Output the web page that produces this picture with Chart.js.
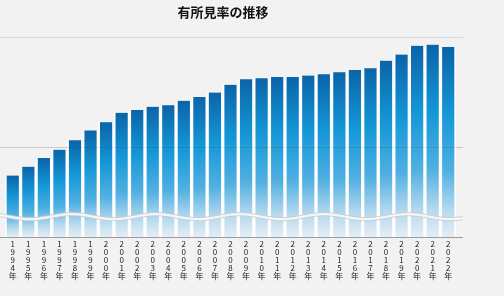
<!DOCTYPE html>
<html>
<head>
<meta charset="utf-8">
<script src="https://cdn.jsdelivr.net/npm/chart.js@4"></script>
<style>
html,body{margin:0;padding:0;background:#f2f2f2;}
#wrap{width:504px;height:296px;}
</style>
</head>
<body>
<div id="wrap"><canvas id="chart" width="504" height="296"></canvas></div>
<script>
const years=["1994","1995","1996","1997","1998","1999","2000","2001","2002","2003","2004","2005","2006","2007","2008","2009","2010","2011","2012","2013","2014","2015","2016","2017","2018","2019","2020","2021","2022"];
const rates=[34.8,36.4,38.0,39.5,41.2,43.0,44.5,46.2,46.7,47.3,47.6,48.4,49.1,49.9,51.3,52.3,52.5,52.7,52.7,53.0,53.2,53.6,54.0,54.3,55.7,56.8,58.4,58.6,58.2];
const gridVals=[40,60];
const yMin=23.6,yMax=60,breakVal=27.3;
const title="有所見率の推移";

const labels=years.map(y=>[...y.split(""),"年"]);

function barFill(c){
const chart=c.chart,area=chart.chartArea;
if(!area||c.type!=="data") return "#1497d7";
const top=chart.scales.y.getPixelForValue(c.raw);
const g=chart.ctx.createLinearGradient(0,top,0,area.bottom);
g.addColorStop(0,"#0a64a8");
g.addColorStop(0.35,"#1497d7");
g.addColorStop(0.65,"#50b0e2");
g.addColorStop(0.86,"#b6d9ee");
g.addColorStop(1,"#e4eef5");
return g;
}

// title, horizontal rules, axis break wave
const decor={
id:"decor",
beforeDatasetsDraw(chart){
const c=chart.ctx,y=chart.scales.y;
c.save();
c.fillStyle="#111";c.font="bold 13px 'Noto Sans CJK JP'";
c.textAlign="center";c.textBaseline="middle";
c.fillText(title,223,12);
c.strokeStyle="#d9d9d9";c.lineWidth=1;
gridVals.forEach(v=>{
const p=Math.round(y.getPixelForValue(v))+0.5;
c.beginPath();c.moveTo(0,p);c.lineTo(463,p);c.stroke();
});
c.restore();
},
afterDatasetsDraw(chart){
const c=chart.ctx,y=chart.scales.y;
c.save();
c.strokeStyle="rgba(0,0,0,0.07)";c.lineWidth=1;
const g=Math.round(y.getPixelForValue(40))+0.5;
c.beginPath();c.moveTo(0,g);c.lineTo(463,g);c.stroke();
const yc=y.getPixelForValue(breakVal);
const amp=2.5,per=84,ph=72,th=3.2;
const wave=(x,o)=>yc+o-amp*Math.cos((x-ph)/per*2*Math.PI);
c.beginPath();
for(let x=0;x<=463;x++){x?c.lineTo(x,wave(x,-th/2)):c.moveTo(x,wave(x,-th/2));}
for(let x=463;x>=0;x--){c.lineTo(x,wave(x,th/2));}
c.closePath();
c.fillStyle="rgba(246,248,250,0.95)";c.fill();
c.strokeStyle="#c4c8cb";c.lineWidth=0.8;
[-th/2,th/2].forEach(o=>{
c.beginPath();
for(let x=0;x<=463;x++){x?c.lineTo(x,wave(x,o)):c.moveTo(x,wave(x,o));}
c.stroke();
});
const b=Math.round(y.getPixelForValue(yMin))+0.5;
c.strokeStyle="#9a9a9a";c.lineWidth=1;
c.beginPath();c.moveTo(0,b);c.lineTo(463,b);c.stroke();
c.restore();
}
};

const ctx=document.getElementById("chart").getContext("2d");
const chart=new Chart(ctx,{
type:"bar",
data:{labels:labels,datasets:[{
data:rates,
backgroundColor:barFill,
borderColor:"rgba(255,255,255,0.8)",
borderWidth:{left:2,right:2,top:0,bottom:0},
borderSkipped:"bottom",
barPercentage:1,categoryPercentage:1
}]},
options:{
responsive:false,animation:false,
layout:{padding:{left:5,right:48,top:37,bottom:13}},
plugins:{legend:{display:false},tooltip:{enabled:false},title:{display:false}},
scales:{
x:{grid:{display:false,drawTicks:false},border:{display:false},
ticks:{color:"#222",padding:3,maxRotation:0,autoSkip:false,
font:{family:"'Noto Sans CJK JP'",size:8,lineHeight:"8px"}}},
y:{display:false,min:yMin,max:yMax}
}
},
plugins:[decor]
});
</script>
</body>
</html>
